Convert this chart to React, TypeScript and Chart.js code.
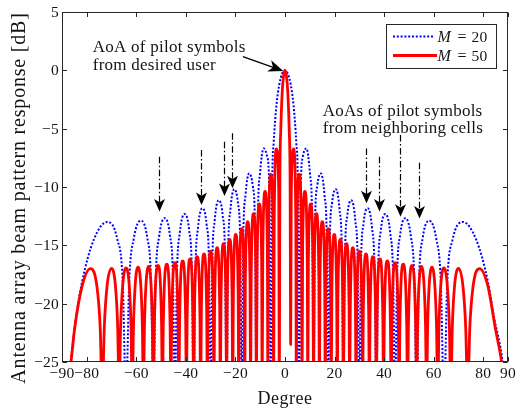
import React, { useEffect, useRef } from "react";
import { Chart, registerables } from "chart.js";

Chart.register(...registerables);

// ---------------- data ----------------
const m20Deg = [
  -90, -86.6, -84.27, -81.89, -77.162, -71.805, -67.668, -65.505, -64.158,
  -62.873, -61.045, -58.212, -55.59, -54.096, -53.13,
  -52.186, -50.805, -48.59, -46.469, -45.235, -44.427,
  -43.63, -42.454, -40.542, -38.682, -37.59, -36.87,
  -36.157, -35.099, -33.367, -31.668, -30.665, -30,
  -29.341, -28.359, -26.743, -25.15, -24.205, -23.578,
  -22.955, -22.024, -20.487, -18.966, -18.059, -17.458,
  -16.858, -15.962, -14.478, -13.003, -12.122, -11.537,
  -10.953, -10.079, -8.627, -7.181, -6.315, -5.739,
  -5.164, -4.589, -3.44, -2.292, -1.146, 0,
  1.146, 2.292, 3.44, 4.589, 5.164,
  5.739, 6.315, 7.181, 8.627, 10.079, 10.953,
  11.537, 12.122, 13.003, 14.478, 15.962, 16.858,
  17.458, 18.059, 18.966, 20.487, 22.024, 22.955,
  23.578, 24.205, 25.15, 26.743, 28.359, 29.341,
  30, 30.665, 31.668, 33.367, 35.099, 36.157,
  36.87, 37.59, 38.682, 40.542, 42.454, 43.63,
  44.427, 45.235, 46.469, 48.59, 50.805, 52.186,
  53.13, 54.096, 55.59, 58.212, 61.045, 62.873,
  64.158, 65.505, 67.668, 71.805, 77.162, 81.89, 84.27, 87.9, 90,
];
const m20Db = [
  -30, -25.1, -21.07, -18.11, -14.51, -13.0, -14.49, -18.07, -28,
  -18.05, -14.43, -12.89, -14.35, -17.91, -28,
  -17.87, -14.24, -12.67, -14.1, -17.64, -28,
  -17.57, -13.92, -12.32, -13.71, -17.24, -28,
  -17.14, -13.47, -11.82, -13.17, -16.67, -28,
  -16.54, -12.83, -11.14, -12.43, -15.9, -28,
  -15.71, -11.96, -10.19, -11.41, -14.81, -28,
  -14.54, -10.73, -8.84, -9.91, -13.21, -28,
  -12.79, -8.85, -6.69, -7.42, -10.46, -28,
  -9.6, -6.299, -2.965, -1.207, -0.289, 0,
  -0.289, -1.207, -2.965, -6.299, -9.6,
  -28, -10.46, -7.42, -6.69, -8.85, -12.79,
  -28, -13.21, -9.91, -8.84, -10.73, -14.54,
  -28, -14.81, -11.41, -10.19, -11.96, -15.71,
  -28, -15.9, -12.43, -11.14, -12.83, -16.54,
  -28, -16.67, -13.17, -11.82, -13.47, -17.14,
  -28, -17.24, -13.71, -12.32, -13.92, -17.57,
  -28, -17.64, -14.1, -12.67, -14.24, -17.87,
  -28, -17.91, -14.35, -12.89, -14.43, -18.05,
  -28, -18.07, -14.49, -13.0, -14.51, -18.11, -21.07, -25.1, -30,
];

const m50Deg = [
  -90, -86.4, -84.874, -81.89, -78.522, -75.93, -74.58, -73.74,
  -72.941, -71.805, -70.052, -68.435, -67.518, -66.926,
  -66.348, -65.505, -64.158, -62.873, -62.128, -61.642,
  -61.163, -60.458, -59.317, -58.212, -57.566, -57.141,
  -56.721, -56.098, -55.084, -54.096, -53.514, -53.13,
  -52.75, -51.26, -49.818, -49.464,
  -49.113, -47.731, -46.386, -46.055,
  -45.726, -44.427, -43.157, -42.844,
  -42.532, -41.3, -40.092, -39.792,
  -39.495, -38.32, -37.158, -36.87,
  -36.583, -35.451, -34.334, -34.056,
  -33.779, -32.683, -31.601, -31.332,
  -31.064, -30, -28.946, -28.685,
  -28.424, -27.387, -26.359, -26.104,
  -25.849, -24.834, -23.829, -23.578,
  -23.328, -22.333, -21.346, -21.1,
  -20.855, -19.877, -18.905, -18.663,
  -18.421, -17.458, -16.499, -16.26,
  -16.022, -15.07, -14.123, -13.887,
  -13.651, -12.709, -11.772, -11.537,
  -11.303, -10.37, -9.439, -9.207,
  -8.975, -8.048, -7.123, -6.892,
  -6.661, -5.739, -4.819, -4.589,
  -4.359, -3.44, -2.522, -2.292,
  -2.063, -1.719, -1.146, -0.573, 0, 0.573, 1.146, 1.719, 2.063,
  2.292, 2.522, 3.44, 4.359,
  4.589, 4.819, 5.739, 6.661,
  6.892, 7.123, 8.048, 8.975,
  9.207, 9.439, 10.37, 11.303,
  11.537, 11.772, 12.709, 13.651,
  13.887, 14.123, 15.07, 16.022,
  16.26, 16.499, 17.458, 18.421,
  18.663, 18.905, 19.877, 20.855,
  21.1, 21.346, 22.333, 23.328,
  23.578, 23.829, 24.834, 25.849,
  26.104, 26.359, 27.387, 28.424,
  28.685, 28.946, 30, 31.064,
  31.332, 31.601, 32.683, 33.779,
  34.056, 34.334, 35.451, 36.583,
  36.87, 37.158, 38.32, 39.495,
  39.792, 40.092, 41.3, 42.532,
  42.844, 43.157, 44.427, 45.726,
  46.055, 46.386, 47.731, 49.113,
  49.464, 49.818, 51.26, 52.75,
  53.13, 53.514, 54.096, 55.084, 56.098, 56.721,
  57.141, 57.566, 58.212, 59.317, 60.458, 61.163,
  61.642, 62.128, 62.873, 64.158, 65.505, 66.348,
  66.926, 67.518, 68.435, 70.052, 71.805, 72.941,
  73.74, 74.58, 75.93, 78.522, 81.89, 84.874, 87.5, 90,
];
const m50Db = [
  -30, -25.05, -22.09, -18.49, -16.99, -18.49, -22.08, -28,
  -22.08, -18.48, -16.97, -18.47, -22.06, -28,
  -22.05, -18.45, -16.94, -18.43, -22.02, -28,
  -22.01, -18.4, -16.88, -18.37, -21.96, -28,
  -21.94, -18.34, -16.81, -18.3, -21.88, -28,
  -21.86, -16.72, -21.78, -28,
  -21.76, -16.62, -21.67, -28,
  -21.64, -16.49, -21.53, -28,
  -21.5, -16.34, -21.37, -28,
  -21.34, -16.17, -21.19, -28,
  -21.15, -15.97, -20.98, -28,
  -20.94, -15.74, -20.74, -28,
  -20.69, -15.49, -20.47, -28,
  -20.42, -15.19, -20.17, -28,
  -20.1, -14.86, -19.82, -28,
  -19.75, -14.49, -19.42, -28,
  -19.34, -14.06, -18.97, -28,
  -18.87, -13.56, -18.44, -28,
  -18.32, -12.98, -17.82, -28,
  -17.68, -12.29, -17.07, -28,
  -16.91, -11.45, -16.15, -28,
  -15.94, -10.38, -14.96, -28,
  -14.67, -8.93, -13.28, -28,
  -12.85, -6.73, -10.48, -28,
  -9.61, -5.226, -1.961, -0.456, 0, -0.456, -1.961, -5.226, -9.61,
  -23.5, -10.48, -6.73, -12.85,
  -28, -13.28, -8.93, -14.67,
  -28, -14.96, -10.38, -15.94,
  -28, -16.15, -11.45, -16.91,
  -28, -17.07, -12.29, -17.68,
  -28, -17.82, -12.98, -18.32,
  -28, -18.44, -13.56, -18.87,
  -28, -18.97, -14.06, -19.34,
  -28, -19.42, -14.49, -19.75,
  -28, -19.82, -14.86, -20.1,
  -28, -20.17, -15.19, -20.42,
  -28, -20.47, -15.49, -20.69,
  -28, -20.74, -15.74, -20.94,
  -28, -20.98, -15.97, -21.15,
  -28, -21.19, -16.17, -21.34,
  -28, -21.37, -16.34, -21.5,
  -28, -21.53, -16.49, -21.64,
  -28, -21.67, -16.62, -21.76,
  -28, -21.78, -16.72, -21.86,
  -28, -21.88, -18.3, -16.81, -18.34, -21.94,
  -28, -21.96, -18.37, -16.88, -18.4, -22.01,
  -28, -22.02, -18.43, -16.94, -18.45, -22.05,
  -28, -22.06, -18.47, -16.97, -18.48, -22.08,
  -28, -22.08, -18.49, -16.99, -18.49, -22.09, -25.1, -30,
];

const seriesNames = ["20", "50"];
const xTickValues = [-90, -80, -60, -40, -20, 0, 20, 40, 60, 80, 90];
const yTickValues = [5, 0, -5, -10, -15, -20, -25];
const xAxisTitle = "Degree";
const yAxisTitle = "Antenna array beam pattern response [dB]";

// annotations
const desiredLines = ["AoA of pilot symbols", "from desired user"];
const neighborLines = ["AoAs of pilot symbols", "from neighboring cells"];
const desiredArrowDeg = [-17.0, -0.7];
const desiredArrowDb = [1.18, -0.06];
const neighborArrowDeg = [-50.8, -34.1, -24.6, -21.2, 32.6, 37.9, 46.3, 53.9];
const neighborArrowTopDb = [-7.4, -6.83, -6.12, -5.4, -6.69, -7.4, -5.55, -7.92];
const neighborArrowTipDb = [-12.1, -11.55, -10.77, -10.1, -11.4, -12.1, -12.55, -12.7];

// ---------------- styling ----------------
const SERIF = "'Liberation Serif', 'Times New Roman', serif";
const TEXT = "#141414";
const AXIS = "#262626";
const BLUE = "#0000ff";
const RED = "#ff0000";
const BLUE_DASH = [2, 1.8];

function setFont(ctx: CanvasRenderingContext2D, size: number, italic = false, spacing = 0) {
  ctx.font = `${italic ? "italic " : ""}${size}px ${SERIF}`;
  (ctx as any).letterSpacing = `${spacing}px`;
}

function arrowHead(
  ctx: CanvasRenderingContext2D,
  tx: number,
  ty: number,
  dx: number,
  dy: number,
  len: number,
  halfW: number,
  notch: number
) {
  const n = Math.hypot(dx, dy) || 1;
  const ux = dx / n;
  const uy = dy / n;
  const px = -uy;
  const py = ux;
  const bx = tx - ux * len;
  const by = ty - uy * len;
  ctx.beginPath();
  ctx.moveTo(tx, ty);
  ctx.lineTo(bx + px * halfW, by + py * halfW);
  ctx.lineTo(tx - ux * len * notch, ty - uy * len * notch);
  ctx.lineTo(bx - px * halfW, by - py * halfW);
  ctx.closePath();
  ctx.fill();
}

const overlay = {
  id: "overlay",
  beforeDraw(chart: any) {
    const ctx = chart.ctx as CanvasRenderingContext2D;
    ctx.save();
    ctx.fillStyle = "#ffffff";
    ctx.fillRect(0, 0, chart.width, chart.height);
    ctx.restore();
  },
  afterDraw(chart: any) {
    const ctx = chart.ctx as CanvasRenderingContext2D;
    const a = chart.chartArea;
    const xs = chart.scales.x;
    const ys = chart.scales.y;
    ctx.save();

    // axes box
    const L = Math.round(a.left) + 0.5;
    const R = Math.round(a.right) - 0.5;
    const T = Math.round(a.top) + 0.5;
    const B = Math.round(a.bottom) - 0.5;
    ctx.strokeStyle = AXIS;
    ctx.lineWidth = 1;
    ctx.setLineDash([]);
    ctx.strokeRect(L, T, R - L, B - T);

    // ticks (inward, mirrored)
    const tl = 4.5;
    ctx.beginPath();
    xTickValues.forEach((v) => {
      const px = Math.round(xs.getPixelForValue(v)) + 0.5;
      ctx.moveTo(px, B);
      ctx.lineTo(px, B - tl);
      ctx.moveTo(px, T);
      ctx.lineTo(px, T + tl);
    });
    yTickValues.forEach((v) => {
      const py = Math.round(ys.getPixelForValue(v)) + 0.5;
      ctx.moveTo(L, py);
      ctx.lineTo(L + tl, py);
      ctx.moveTo(R, py);
      ctx.lineTo(R - tl, py);
    });
    ctx.stroke();

    // tick labels
    ctx.fillStyle = TEXT;
    setFont(ctx, 15.5, false, 0.2);
    ctx.textBaseline = "alphabetic";
    ctx.textAlign = "center";
    xTickValues.forEach((v) => {
      const px = xs.getPixelForValue(v);
      const s = v < 0 ? "\u2212" + Math.abs(v) : String(v);
      ctx.fillText(s, px, a.bottom + 15.5);
    });
    ctx.textAlign = "right";
    yTickValues.forEach((v) => {
      const py = ys.getPixelForValue(v);
      const s = v < 0 ? "\u2212" + Math.abs(v) : String(v);
      ctx.fillText(s, a.left - 3, py + 5);
    });

    // axis titles
    setFont(ctx, 18, false, 0.5);
    ctx.textAlign = "center";
    ctx.fillText(xAxisTitle, (a.left + a.right) / 2, a.bottom + 41.5);
    ctx.save();
    ctx.translate(a.left - 37.5, (a.top + a.bottom) / 2 + 11);
    ctx.rotate(-Math.PI / 2);
    setFont(ctx, 20, false, 0.8);
    ctx.fillText(yAxisTitle, 0, 0);
    ctx.restore();

    // annotation texts
    ctx.fillStyle = TEXT;
    setFont(ctx, 17, false, 0.25);
    ctx.textAlign = "left";
    const dx0 = xs.getPixelForValue(-77.6);
    const dy0 = ys.getPixelForValue(1.57);
    desiredLines.forEach((s, i) => ctx.fillText(s, dx0, dy0 + i * 17.8));
    const nx0 = xs.getPixelForValue(15.26);
    const ny0 = ys.getPixelForValue(-3.92);
    neighborLines.forEach((s, i) => ctx.fillText(s, nx0, ny0 + i * 17.0));

    // desired-user arrow
    ctx.strokeStyle = "#000";
    ctx.fillStyle = "#000";
    ctx.lineWidth = 1.3;
    {
      const x1 = xs.getPixelForValue(desiredArrowDeg[0]);
      const y1 = ys.getPixelForValue(desiredArrowDb[0]);
      const x2 = xs.getPixelForValue(desiredArrowDeg[1]);
      const y2 = ys.getPixelForValue(desiredArrowDb[1]);
      const d = Math.hypot(x2 - x1, y2 - y1);
      const ux = (x2 - x1) / d;
      const uy = (y2 - y1) / d;
      ctx.beginPath();
      ctx.moveTo(x1, y1);
      ctx.lineTo(x2 - ux * 10, y2 - uy * 10);
      ctx.stroke();
      arrowHead(ctx, x2, y2, ux, uy, 15, 6, 0.72);
    }

    // neighbouring-cell arrows (dash-dot)
    ctx.lineWidth = 1.2;
    neighborArrowDeg.forEach((deg, i) => {
      const x = Math.round(xs.getPixelForValue(deg)) + 0.5;
      const yTop = ys.getPixelForValue(neighborArrowTopDb[i]);
      const yTip = ys.getPixelForValue(neighborArrowTipDb[i]);
      ctx.setLineDash([6.5, 2.5, 1.5, 2.5]);
      ctx.beginPath();
      ctx.moveTo(x, yTop);
      ctx.lineTo(x, yTip - 8);
      ctx.stroke();
      ctx.setLineDash([]);
      arrowHead(ctx, x, yTip, 0, 1, 12.5, 5.5, 0.74);
    });

    // legend
    const bx = a.right - 122;
    const by = a.top + 12;
    const bw = 110;
    const bh = 44;
    ctx.setLineDash([]);
    ctx.fillStyle = "#ffffff";
    ctx.fillRect(bx, by, bw, bh);
    ctx.strokeStyle = AXIS;
    ctx.lineWidth = 1;
    ctx.strokeRect(Math.round(bx) + 0.5, Math.round(by) + 0.5, bw, bh);
    const rows = [
      { color: BLUE, dash: BLUE_DASH, width: 2, y: by + 12.5, len: 40 },
      { color: RED, dash: [] as number[], width: 2.8, y: by + 31.5, len: 44 },
    ];
    rows.forEach((r, i) => {
      ctx.strokeStyle = r.color;
      ctx.lineWidth = r.width;
      ctx.setLineDash(r.dash);
      ctx.beginPath();
      ctx.moveTo(bx + 7, r.y);
      ctx.lineTo(bx + 7 + r.len, r.y);
      ctx.stroke();
      ctx.setLineDash([]);
      ctx.fillStyle = TEXT;
      ctx.textAlign = "left";
      setFont(ctx, 16, true, 0);
      ctx.fillText("M", bx + 51.5, r.y + 5);
      setFont(ctx, 16, false, 0);
      ctx.textAlign = "center";
      ctx.fillText("=", bx + 76, r.y + 5);
      ctx.textAlign = "left";
      setFont(ctx, 15.5, false, 0.2);
      ctx.fillText(seriesNames[i], bx + 85.5, r.y + 5);
    });

    (ctx as any).letterSpacing = "0px";
    ctx.restore();
  },
};

export default function App() {
  const ref = useRef<HTMLCanvasElement>(null);
  useEffect(() => {
    if (!ref.current) return;
    const chart = new Chart(ref.current, {
      type: "line",
      data: {
        datasets: [
          {
            label: "M = " + seriesNames[0],
            data: m20Deg.map((x, i) => ({ x, y: m20Db[i] })),
            borderColor: BLUE,
            borderWidth: 2,
            borderDash: BLUE_DASH,
            borderCapStyle: "butt",
            pointRadius: 0,
            fill: false,
            cubicInterpolationMode: "monotone",
            order: 1,
            clip: 0,
          },
          {
            label: "M = " + seriesNames[1],
            data: m50Deg.map((x, i) => ({ x, y: m50Db[i] })),
            borderColor: RED,
            borderWidth: 2.8,
            borderJoinStyle: "round",
            pointRadius: 0,
            fill: false,
            cubicInterpolationMode: "monotone",
            order: 0,
            clip: 0,
          },
        ] as any,
      },
      options: {
        responsive: false,
        animation: false,
        devicePixelRatio: 1,
        events: [],
        layout: { padding: { left: 62, right: 9, top: 12, bottom: 47 } },
        elements: { line: { capBezierPoints: false } as any },
        scales: {
          x: { type: "linear", min: -90, max: 90, display: false },
          y: { type: "linear", min: -25, max: 5, display: false },
        },
        plugins: { legend: { display: false }, tooltip: { enabled: false } },
      },
      plugins: [overlay as any],
    });
    return () => chart.destroy();
  }, []);
  return (
    <div style={{ position: "absolute", left: 0, top: 0, width: 517, height: 409, background: "#fff" }}>
      <canvas ref={ref} width={517} height={409} style={{ display: "block", width: 517, height: 409 }} />
    </div>
  );
}
